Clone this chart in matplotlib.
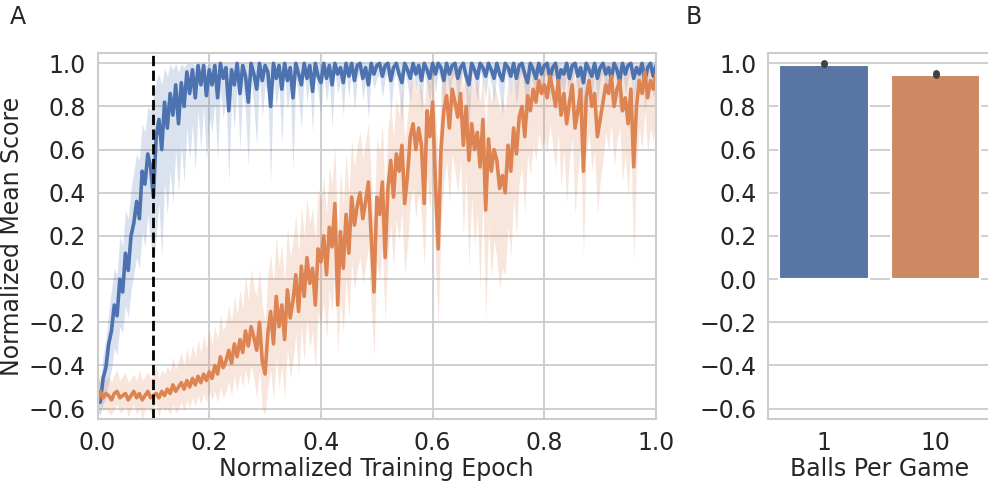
import numpy as np
import matplotlib
matplotlib.use("Agg")
import matplotlib.pyplot as plt
import seaborn as sns

# Panel A: mean score per normalized epoch (201 samples), with CI band
blue_mean = [
    -0.55, -0.57, -0.46, -0.41, -0.30, -0.24, -0.12, -0.17, 0.00, -0.06, 0.12, 0.04, 0.20, 0.26, 0.36, 0.28, 0.50, 0.44, 0.58, 0.52, 0.38,
    0.66, 0.74, 0.60, 0.82, 0.70, 0.86, 0.76, 0.90, 0.72, 0.91, 0.80, 0.96, 0.86, 0.97, 0.84, 0.99, 0.90, 0.99, 0.85, 0.97,
    0.90, 0.99, 0.84, 1.00, 0.93, 0.98, 0.78, 0.97, 0.90, 1.00, 0.86, 0.99, 0.94, 0.82, 1.00, 0.95, 0.88, 1.00, 0.92, 0.99,
    0.96, 0.80, 1.00, 0.93, 0.99, 0.88, 1.00, 0.92, 0.98, 0.84, 1.00, 0.95, 0.90, 1.00, 0.93, 0.99, 0.87, 1.00, 0.94, 0.91,
    1.00, 0.93, 0.99, 0.90, 1.00, 0.95, 0.98, 0.91, 1.00, 0.94, 1.00, 0.92, 0.99, 1.00, 0.93, 0.98, 0.90, 1.00, 0.95, 0.99,
    1.00, 0.94, 0.99, 1.00, 0.92, 0.98, 1.00, 0.95, 0.91, 1.00, 0.97, 0.93, 1.00, 0.95, 0.99, 0.92, 1.00, 0.97, 0.93, 1.00,
    0.95, 1.00, 0.98, 0.92, 1.00, 0.95, 0.99, 1.00, 0.93, 0.98, 1.00, 0.94, 0.90, 1.00, 0.97, 0.93, 1.00, 0.98, 0.94, 1.00,
    0.97, 0.93, 1.00, 0.95, 0.92, 1.00, 0.98, 0.94, 1.00, 0.93, 0.99, 1.00, 0.95, 0.91, 1.00, 0.97, 0.93, 1.00, 0.95, 0.99,
    1.00, 0.93, 0.98, 1.00, 0.92, 0.97, 0.95, 1.00, 0.93, 0.99, 1.00, 0.94, 0.98, 0.91, 1.00, 0.97, 0.94, 1.00, 0.93, 0.98,
    1.00, 0.95, 0.98, 0.93, 1.00, 0.97, 0.92, 1.00, 0.95, 0.99, 1.00, 0.93, 0.98, 0.95, 1.00, 0.92, 0.98, 1.00, 0.94, 0.99,
]
blue_lo = [
    -0.62, -0.63, -0.58, -0.55, -0.48, -0.42, -0.32, -0.35, -0.22, -0.25, -0.12, -0.18, -0.05, 0.02, 0.10, 0.05, 0.22, 0.15, 0.30, 0.18, 0.05,
    0.20, 0.35, 0.10, 0.45, 0.30, 0.50, 0.35, 0.60, 0.40, 0.62, 0.45, 0.70, 0.55, 0.72, 0.50, 0.78, 0.60, 0.80, 0.55, 0.75,
    0.68, 0.82, 0.55, 0.88, 0.74, 0.85, 0.45, 0.84, 0.70, 0.90, 0.60, 0.88, 0.78, 0.52, 0.92, 0.80, 0.62, 0.93, 0.75, 0.90,
    0.86, 0.45, 0.93, 0.80, 0.90, 0.62, 0.94, 0.78, 0.89, 0.50, 0.94, 0.84, 0.70, 0.95, 0.82, 0.92, 0.68, 0.95, 0.86, 0.76,
    0.95, 0.82, 0.92, 0.70, 0.96, 0.86, 0.92, 0.76, 0.96, 0.84, 0.96, 0.78, 0.93, 0.96, 0.83, 0.92, 0.74, 0.96, 0.88, 0.93,
    0.95, 0.84, 0.93, 0.96, 0.76, 0.92, 0.96, 0.86, 0.72, 0.96, 0.90, 0.82, 0.96, 0.87, 0.93, 0.78, 0.96, 0.90, 0.82, 0.96,
    0.86, 0.96, 0.92, 0.76, 0.96, 0.86, 0.93, 0.96, 0.80, 0.92, 0.96, 0.85, 0.70, 0.96, 0.90, 0.82, 0.96, 0.92, 0.84, 0.96,
    0.90, 0.82, 0.96, 0.86, 0.76, 0.96, 0.92, 0.84, 0.96, 0.80, 0.93, 0.96, 0.86, 0.72, 0.96, 0.90, 0.82, 0.96, 0.87, 0.93,
    0.96, 0.82, 0.92, 0.96, 0.78, 0.90, 0.86, 0.96, 0.80, 0.93, 0.96, 0.84, 0.92, 0.74, 0.96, 0.90, 0.84, 0.96, 0.82, 0.92,
    0.96, 0.86, 0.92, 0.80, 0.96, 0.90, 0.76, 0.96, 0.86, 0.93, 0.96, 0.82, 0.92, 0.86, 0.96, 0.78, 0.92, 0.96, 0.84, 0.94,
]
# upper band reaches the 1.0 ceiling after epoch ~0.2
blue_hi = [
    -0.45, -0.48, -0.35, -0.28, -0.15, -0.05, 0.05, 0.02, 0.20, 0.15, 0.32, 0.28, 0.42, 0.50, 0.58, 0.55, 0.72, 0.68, 0.80, 0.78, 0.85,
    0.92, 0.95, 0.90, 0.98, 0.94, 1.00, 0.97, 1.00, 0.96, 1.00, 0.98, 1.00, 1.00, 1.00, 0.99, 1.00, 1.00, 1.00, 0.99, 1.00,
] + [1.00] * 160

orange_mean = [
    -0.57, -0.52, -0.55, -0.53, -0.54, -0.56, -0.53, -0.52, -0.55, -0.54, -0.53, -0.56, -0.54, -0.52, -0.55, -0.53, -0.56, -0.54, -0.52, -0.55, -0.54, -0.53, -0.55, -0.52, -0.54,
    -0.51, -0.53, -0.49, -0.52, -0.50, -0.48, -0.51, -0.47, -0.50, -0.46, -0.49, -0.45, -0.48, -0.44, -0.47, -0.43,
    -0.46, -0.40, -0.44, -0.36, -0.41, -0.38, -0.33, -0.39, -0.30, -0.36, -0.28, -0.34, -0.24, -0.31, -0.22, -0.27,
    -0.33, -0.20, -0.38, -0.44, -0.25, -0.15, -0.30, -0.08, -0.22, -0.12, -0.28, -0.05, -0.18, -0.10,
    0.02, -0.15, 0.06, -0.08, 0.10, -0.02, 0.05, -0.12, 0.14, 0.08, 0.20, 0.02, 0.24, 0.15,
    0.35, -0.12, 0.22, 0.05, 0.30, 0.12, 0.38, 0.25, 0.34, 0.40, 0.28, 0.36, 0.45, 0.20, -0.06, 0.38,
    0.30, 0.45, 0.10, 0.42, 0.55, 0.38, 0.58, 0.50, 0.62, 0.35, 0.48, 0.66, 0.72, 0.60,
    0.70, 0.62, 0.35, 0.78, 0.66, 0.82, 0.45, 0.14, 0.60, 0.78, 0.85, 0.70, 0.88, 0.82, 0.75, 0.86,
    0.62, 0.80, 0.55, 0.72, 0.60, 0.68, 0.52, 0.74, 0.32, 0.65, 0.50, 0.60,
    0.55, 0.42, 0.48, 0.40, 0.62, 0.50, 0.70, 0.58, 0.75, 0.80, 0.66, 0.85, 0.78, 0.88, 0.82, 0.92, 0.86, 0.90,
    0.84, 0.94, 0.88, 0.80, 0.92, 0.76, 0.86, 0.72, 0.82, 0.90, 0.70, 0.78, 0.88, 0.50, 0.84, 0.92, 0.80, 0.86, 0.66, 0.74,
    0.82, 0.90, 0.86, 0.94, 0.80, 0.88, 0.92, 0.78, 0.84, 0.72, 0.88, 0.52, 0.80, 0.92, 0.86, 0.96, 0.84, 0.92, 0.88, 0.95,
]
orange_lo = [
    -0.63, -0.58, -0.61, -0.60, -0.62, -0.63, -0.60, -0.58, -0.62, -0.61, -0.59, -0.64, -0.60, -0.58, -0.63, -0.60, -0.65, -0.61, -0.59, -0.62, -0.60, -0.58, -0.64, -0.59, -0.61,
    -0.60, -0.63, -0.58, -0.62, -0.60, -0.57, -0.61, -0.56, -0.60, -0.55, -0.59, -0.54, -0.58, -0.53, -0.57, -0.52,
    -0.56, -0.52, -0.57, -0.50, -0.55, -0.52, -0.47, -0.54, -0.45, -0.52, -0.44, -0.50, -0.42, -0.49, -0.40, -0.46,
    -0.55, -0.42, -0.60, -0.63, -0.50, -0.42, -0.56, -0.36, -0.50, -0.40, -0.55, -0.32, -0.46, -0.38,
    -0.25, -0.45, -0.22, -0.38, -0.18, -0.32, -0.24, -0.42, -0.15, -0.22, -0.10, -0.28, -0.05, -0.15,
    0.05, -0.35, -0.10, -0.25, 0.00, -0.18, 0.08, -0.05, 0.04, 0.10, -0.02, 0.06, 0.15, -0.12, -0.36, 0.08,
    0.00, 0.15, -0.20, 0.12, 0.25, 0.05, 0.28, 0.18, 0.32, 0.02, 0.15, 0.35, 0.42, 0.28,
    0.40, 0.30, 0.05, 0.48, 0.32, 0.52, 0.10, -0.22, 0.25, 0.45, 0.55, 0.35, 0.58, 0.50, 0.40, 0.55,
    0.20, 0.48, 0.05, 0.38, 0.15, 0.30, -0.05, 0.40, -0.20, 0.25, 0.00, 0.18,
    0.10, -0.05, 0.05, 0.02, 0.25, 0.10, 0.38, 0.20, 0.45, 0.52, 0.30, 0.58, 0.48, 0.62, 0.55, 0.68, 0.60, 0.65,
    0.58, 0.72, 0.62, 0.50, 0.68, 0.42, 0.60, 0.35, 0.55, 0.66, 0.30, 0.48, 0.62, 0.10, 0.58, 0.68, 0.50, 0.60, 0.30, 0.45,
    0.55, 0.68, 0.60, 0.72, 0.52, 0.64, 0.70, 0.45, 0.58, 0.38, 0.62, 0.08, 0.52, 0.70, 0.60, 0.78, 0.58, 0.70, 0.64, 0.75,
]
orange_hi = [
    -0.48, -0.44, -0.47, -0.46, -0.45, -0.48, -0.44, -0.42, -0.47, -0.45, -0.43, -0.48, -0.46, -0.44, -0.47, -0.42, -0.47, -0.45, -0.43, -0.46, -0.45, -0.40, -0.46, -0.42, -0.44,
    -0.40, -0.43, -0.36, -0.42, -0.38, -0.34, -0.40, -0.32, -0.38, -0.30, -0.36, -0.28, -0.34, -0.26, -0.32, -0.24,
    -0.30, -0.22, -0.28, -0.16, -0.24, -0.20, -0.12, -0.20, -0.08, -0.16, -0.05, -0.14, 0.02, -0.10, 0.05, -0.04,
    -0.08, 0.05, -0.12, -0.20, 0.02, 0.12, -0.02, 0.20, 0.06, 0.16, -0.02, 0.24, 0.10, 0.18,
    0.30, 0.12, 0.34, 0.20, 0.38, 0.26, 0.33, 0.18, 0.42, 0.36, 0.48, 0.30, 0.52, 0.44,
    0.62, 0.22, 0.50, 0.34, 0.58, 0.40, 0.65, 0.52, 0.62, 0.68, 0.56, 0.64, 0.72, 0.48, 0.22, 0.66,
    0.58, 0.72, 0.40, 0.70, 0.80, 0.66, 0.84, 0.76, 0.88, 0.64, 0.76, 0.90, 0.94, 0.86,
    0.92, 0.88, 0.80, 0.96, 0.90, 0.98, 0.78, 0.55, 0.88, 0.97, 0.99, 0.92, 1.00, 0.98, 0.95, 0.99,
    0.88, 0.97, 0.84, 0.95, 0.88, 0.93, 0.82, 0.96, 0.70, 0.92, 0.82, 0.90,
    0.86, 0.78, 0.84, 0.78, 0.92, 0.84, 0.95, 0.90, 0.97, 0.99, 0.93, 1.00, 0.98, 1.00, 0.99, 1.00, 1.00, 1.00,
    1.00, 1.00, 1.00, 0.98, 1.00, 0.96, 1.00, 0.94, 0.99, 1.00, 0.92, 0.97, 1.00, 0.82, 1.00, 1.00, 0.98, 1.00, 0.95, 0.96,
    1.00, 1.00, 1.00, 1.00, 0.99, 1.00, 1.00, 0.97, 1.00, 0.94, 1.00, 0.85, 0.99, 1.00, 1.00, 1.00, 1.00, 1.00, 1.00, 1.00,
]
cutoff_epoch = 0.1

# Panel B: final score per balls-per-game setting
balls = ["1", "10"]
final_score = [0.993, 0.945]
final_ci_lo = [0.995, 0.947]
final_ci_hi = [1.000, 0.953]

sns.set_style("whitegrid")
plt.rcParams["font.family"] = ["DejaVu Sans"]
plt.rcParams["text.color"] = "#262626"
plt.rcParams["axes.labelcolor"] = "#262626"
plt.rcParams["xtick.color"] = "#262626"
plt.rcParams["ytick.color"] = "#262626"

pal = sns.color_palette("deep")
blue, orange = pal[0], pal[1]
FS = 17

fig = plt.figure(figsize=(9.88, 4.83), dpi=100)
axA = fig.add_axes([0.0987, 0.1317, 0.5653, 0.7596])
axB = fig.add_axes([0.7776, 0.1317, 0.2261, 0.7596])

epoch = np.linspace(0, 1, len(blue_mean))
for mean, lo, hi, c in [(blue_mean, blue_lo, blue_hi, blue),
                        (orange_mean, orange_lo, orange_hi, orange)]:
    axA.plot(epoch, mean, color=c, lw=2.6)
    axA.fill_between(epoch, lo, hi, color=c, alpha=0.2, lw=0)
axA.axvline(cutoff_epoch, color="black", ls="--", lw=2)

yt = [-0.6, -0.4, -0.2, 0.0, 0.2, 0.4, 0.6, 0.8, 1.0]
for ax in (axA, axB):
    ax.set_ylim(-0.65, 1.05)
    ax.set_yticks(yt)
    ax.tick_params(labelsize=FS, pad=5)
    ax.grid(True, color="#cccccc", lw=1.3)
    for s in ax.spines.values():
        s.set_color("#cccccc")
        s.set_linewidth(1.5)

axA.set_xlim(0, 1)
axA.set_xticks([0, 0.2, 0.4, 0.6, 0.8, 1.0])
axA.set_xticklabels(["0.0", "0.2", "0.4", "0.6", "0.8", "1.0"])
axA.set_xlabel("Normalized Training Epoch", fontsize=FS, labelpad=1)
axA.set_ylabel("Normalized Mean Score", fontsize=FS, labelpad=3)

bar_cols = sns.color_palette("deep", desat=0.75)[:2]
xpos = np.arange(len(balls))
axB.bar(xpos, final_score, width=0.8, color=bar_cols, edgecolor="white", lw=1.5, zorder=2)
for x, lo, hi in zip(xpos, final_ci_lo, final_ci_hi):
    axB.plot([x, x], [lo, hi], color="#424242", lw=5, solid_capstyle="round", zorder=3)
axB.grid(False, axis="x")
axB.set_xlim(-0.5, 1.5)
axB.set_xticks(xpos)
axB.set_xticklabels(balls)
axB.set_xlabel("Balls Per Game", fontsize=FS, labelpad=1)

fig.text(0.010, 0.965, "A", fontsize=FS, va="center")
fig.text(0.694, 0.965, "B", fontsize=FS, va="center")

fig.savefig("out.png", dpi=100)
